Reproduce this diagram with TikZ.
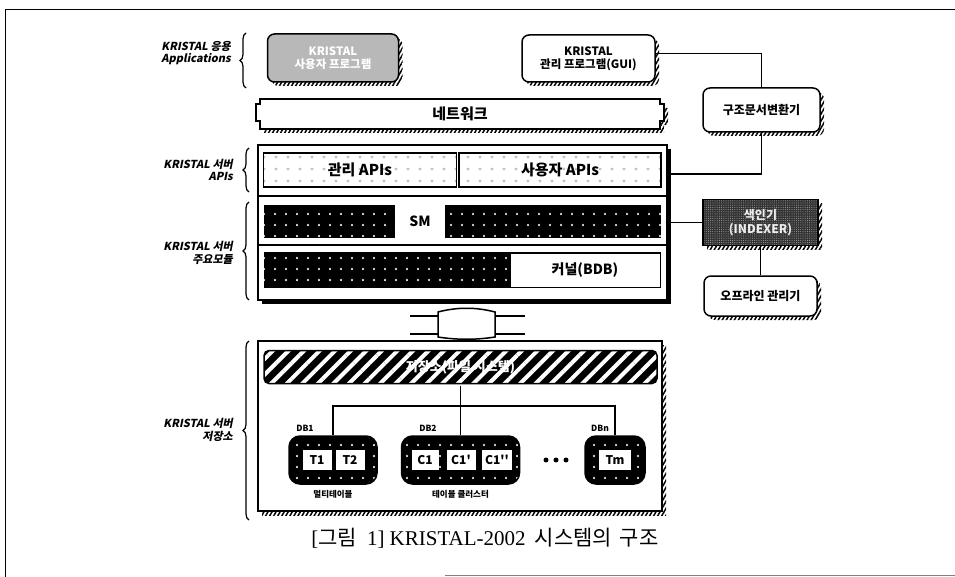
\documentclass[tikz,border=0pt]{standalone}
\usepackage{fontspec}
\setmainfont{Liberation Serif}
\newfontfamily\kr{Noto Sans CJK KR}
\newfontfamily\krsl{Noto Sans CJK KR}[FakeSlant=0.2]
\usetikzlibrary{patterns,patterns.meta,shadows,decorations.pathreplacing}
\begin{document}
\begin{tikzpicture}[x=1pt,y=-1pt,
  lw/.style={line width=1.5pt},
  hshadow/.style={drop shadow={shadow xshift=4pt,shadow yshift=-4pt,opacity=1,pattern={Lines[angle=60,distance=3.5pt,line width=1.5pt]},pattern color=black}},
  box/.style={hshadow,lw,draw,rounded corners=7pt,fill=white,align=center,inner sep=0pt,font=\kr\bfseries\fontsize{11.5}{13}\selectfont},
  lab/.style={align=right,anchor=east,inner sep=0pt,font=\krsl\bfseries\fontsize{11}{12.5}\selectfont},
  brc/.style={line width=1.2pt,decorate,decoration={brace,amplitude=6pt}},
  darkrow/.style={preaction={fill=black},pattern={Stars[distance=11pt,radius=1.3pt,points=5]},pattern color=white,inner sep=0pt},
  api/.style={draw,lw,minimum height=34pt,inner sep=0pt,preaction={fill=white},pattern={Stars[distance=12pt,radius=1.7pt,points=5]},pattern color=gray!55,font=\kr\bfseries\fontsize{15}{15}\selectfont},
  cyl/.style={darkrow,draw,lw,rounded corners=11pt,minimum height=48pt},
  tb/.style={fill=white,inner sep=0pt,minimum height=20pt,font=\kr\bfseries\fontsize{12}{12}\selectfont},
  small/.style={inner sep=0pt,font=\kr\bfseries\fontsize{8.5}{9}\selectfont}
]
\useasboundingbox (0,0) rectangle (955,577);
% page frame
\draw[line width=1pt] (5,10) -- (955,10);
\draw[line width=1pt] (5,10) -- (5,577);
\draw[gray,line width=0.8pt] (445,575) -- (955,575);

% left labels and braces
\node[lab] (la) at (231,53) {KRISTAL 응용\\Applications};
\node[lab] (lb) at (233,170) {KRISTAL 서버\\APIs};
\node[lab] (lc) at (233,253) {KRISTAL 서버\\주요모듈};
\node[lab] (ld) at (233,430) {KRISTAL 서버\\저장소};
\draw[brc] (246,88) -- (246,33);
\draw[brc] (249,192) -- (249,148);
\draw[brc] (249,300) -- (249,202);
\draw[brc] (249,520) -- (249,341);

% applications
\node[box,preaction={fill=gray!60},pattern={Dots[distance=2pt,radius=0.45pt]},pattern color=white,text=white,minimum width=131pt,minimum height=48pt] (uprog) at (333,58) {KRISTAL\\사용자 프로그램};
\node[box,minimum width=133pt,minimum height=47pt] (gui) at (588.5,58.5) {KRISTAL\\관리 프로그램(GUI)};
\node[box,minimum width=117pt,minimum height=44pt,font=\kr\bfseries\fontsize{12}{13}\selectfont] (conv) at (761.5,110) {구조문서변환기};

% network
\draw[hshadow,lw,fill=white] (260,99) -- (660,99) -- (660,104) -- (664,104) -- (664,121) -- (660,121) -- (660,129) -- (260,129) -- (260,121) -- (256,121) -- (256,104) -- (260,104) -- cycle;
\node[inner sep=0pt,font=\kr\bfseries\fontsize{15}{15}\selectfont] (net) at (460,114) {네트워크};

% server frame
\node[draw,lw,fill=white,minimum width=409pt,minimum height=155pt,inner sep=0pt,drop shadow={shadow xshift=4pt,shadow yshift=-4pt,opacity=1,fill=black}] (srv) at (462.5,222.5) {};
\draw[lw] (258,196) -- (667,196);
\draw[lw] (258,245) -- (667,245);
\node[api,minimum width=193pt] (mapi) at (360,170) {관리 APIs};
\node[api,minimum width=202pt] (uapi) at (560,170) {사용자 APIs};
\node[darkrow,minimum width=397pt,minimum height=33pt] (smrow) at (462.5,221.5) {};
\node[fill=white,minimum width=50pt,minimum height=33pt,inner sep=0pt,font=\kr\bfseries\fontsize{14}{14}\selectfont] (sm) at (420,221.5) {SM};
\node[darkrow,minimum width=397pt,minimum height=36pt] (krow) at (462.5,270) {};
\node[draw,fill=white,minimum width=150pt,minimum height=34pt,inner sep=0pt,font=\kr\bfseries\fontsize{14}{14}\selectfont] (kern) at (585,270) {커널(BDB)};

% indexer and offline manager
\node[hshadow,lw,draw,preaction={fill=black!80},pattern={Dots[distance=2.2pt,radius=0.5pt]},pattern color=gray!70,minimum width=115pt,minimum height=46pt,inner sep=0pt,align=center,text=gray!15,font=\kr\bfseries\fontsize{12}{14}\selectfont] (idx) at (760.5,222.5) {색인기\\(INDEXER)};
\node[box,minimum width=113pt,minimum height=40pt,font=\kr\bfseries\fontsize{12}{13}\selectfont] (off) at (760.5,296) {오프라인 관리기};

% connectors on the right
\coordinate (apiR) at (667,174);
\draw[lw] ([yshift=5pt]gui.east) -| (conv.north);
\draw[lw] (conv.south) |- (apiR);
\draw[lw] (srv.east) -- (idx.west);
\draw[lw] (idx.south) -- (off.north);

% double arrow between server and storage
\draw[lw] (410,316) -- (438,316);
\draw[lw] (410,334) -- (438,334);
\draw[lw] (495,316) -- (525,316);
\draw[lw] (495,334) -- (525,334);
\draw[lw,fill=white] (438,312) .. controls (457,307) and (476,307) .. (495,312) -- (495,337) .. controls (476,340) and (457,340) .. (438,337) -- cycle;

% storage
\node[hshadow,draw,lw,fill=white,minimum width=404pt,minimum height=170pt,inner sep=0pt] (stor) at (460,426) {};
\node[lw,draw,rounded corners=5pt,preaction={fill=black},pattern={Lines[angle=45,distance=11pt,line width=4pt]},pattern color=white,minimum width=393pt,minimum height=33pt,inner sep=0pt,text=white,font=\kr\bfseries\fontsize{13}{13}\selectfont] (bar) at (460.5,367) {저장소(파일 시스템)};
\node[cyl,minimum width=88pt] (db1) at (333,460) {};
\node[cyl,minimum width=118pt] (db2) at (460.5,460) {};
\node[cyl,minimum width=60pt] (dbn) at (615,460) {};
\coordinate (j) at (460.5,406);
\draw[lw] (bar.south) -- (j);
\draw[lw] (db1.north) |- (j) -| (dbn.north);
\draw[lw] (j) -- (db2.north);
\node[small] (l1) at (305,428) {DB1};
\node[small] (l2) at (428,428) {DB2};
\node[small] (ln) at (600,428) {DBn};
\node[tb,minimum width=29pt] (t1) at (317,460) {T1};
\node[tb,minimum width=29pt] (t2) at (350,460) {T2};
\node[tb,minimum width=27pt] (c1) at (425,460) {C1};
\node[tb,minimum width=29pt] (c1a) at (461,460) {C1'};
\node[tb,minimum width=30pt] (c1b) at (497,460) {C1''};
\node[tb,minimum width=32pt] (tm) at (615,460) {Tm};
\fill (546,460) circle (2.5pt);
\fill (556,460) circle (2.5pt);
\fill (566,460) circle (2.5pt);
\node[small] (u1) at (333,494) {멀티테이블};
\node[small] (u2) at (460.5,494) {테이블 클러스터};

% caption
\node[inner sep=0pt,font=\fontsize{21}{23}\selectfont] (cap) at (485,538) {[{\kr 그림}\hspace{10pt}1] KRISTAL-2002\hspace{9pt}{\kr 시스템의\hspace{8pt}구조}};
\end{tikzpicture}
\end{document}
